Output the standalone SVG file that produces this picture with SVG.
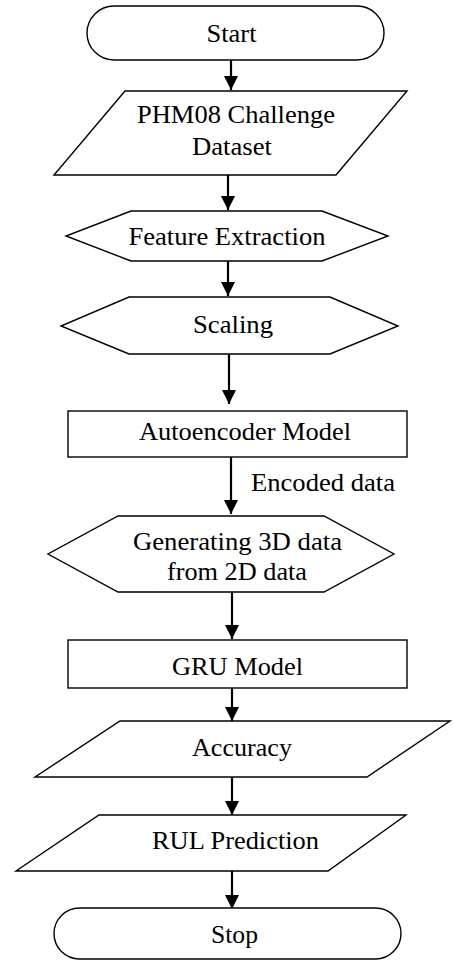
<svg xmlns="http://www.w3.org/2000/svg" width="454" height="960" viewBox="0 0 454 960">
<style>
.s{fill:#fff;stroke:#000;stroke-width:1.4}
.t{font-size:24.5px;fill:#000;text-anchor:middle}
.c{stroke:#000;stroke-width:2.2;fill:none}
</style>
<defs>
<marker id="ah" markerUnits="userSpaceOnUse" markerWidth="15" markerHeight="14" refX="14" refY="7" orient="auto">
<path d="M0,0 L14,7 L0,14 Z" fill="#000"/>
</marker>
</defs>
<rect width="454" height="960" fill="#fff"/>
<g font-family="Liberation Serif, Times New Roman, serif">
<g id="connectors">
<line class="c" x1="231" y1="60" x2="231" y2="90" marker-end="url(#ah)"/>
<line class="c" x1="228" y1="175" x2="228" y2="210" marker-end="url(#ah)"/>
<line class="c" x1="228" y1="261" x2="228" y2="296" marker-end="url(#ah)"/>
<line class="c" x1="229" y1="354" x2="229" y2="404" marker-end="url(#ah)"/>
<line class="c" x1="231" y1="457" x2="231" y2="514" marker-end="url(#ah)"/>
<text class="t" x="251" y="491" style="text-anchor:start" textLength="144" lengthAdjust="spacingAndGlyphs">Encoded data</text>
<line class="c" x1="232" y1="592" x2="232" y2="639" marker-end="url(#ah)"/>
<line class="c" x1="232" y1="688" x2="232" y2="721" marker-end="url(#ah)"/>
<line class="c" x1="232" y1="777" x2="232" y2="815" marker-end="url(#ah)"/>
<line class="c" x1="232" y1="871" x2="232" y2="909" marker-end="url(#ah)"/>
</g>
<g id="start">
<rect class="s" x="87" y="6" width="297" height="54" rx="27" ry="27"/>
<text class="t" x="231.5" y="42" textLength="50" lengthAdjust="spacingAndGlyphs">Start</text>
</g>
<g id="dataset">
<polygon class="s" points="125,91 407,91 336,175 54,175"/>
<text class="t" x="236" y="123" textLength="198" lengthAdjust="spacingAndGlyphs">PHM08 Challenge</text>
<text class="t" x="232" y="155" textLength="80" lengthAdjust="spacingAndGlyphs">Dataset</text>
</g>
<g id="feature">
<polygon class="s" points="131,211 322,211 388,236 322,261 131,261 66,236"/>
<text class="t" x="227" y="245" textLength="197" lengthAdjust="spacingAndGlyphs">Feature Extraction</text>
</g>
<g id="scaling">
<polygon class="s" points="129,297 330,297 398,326 330,354 129,354 61,326"/>
<text class="t" x="233" y="333" textLength="80" lengthAdjust="spacingAndGlyphs">Scaling</text>
</g>
<g id="autoencoder">
<rect class="s" x="68" y="411" width="339" height="46"/>
<text class="t" x="245" y="440" textLength="212" lengthAdjust="spacingAndGlyphs">Autoencoder Model</text>
</g>
<g id="generate">
<polygon class="s" points="118,516 324,516 394,554 324,592 118,592 48,554"/>
<text class="t" x="237.5" y="550" textLength="209" lengthAdjust="spacingAndGlyphs">Generating 3D data</text>
<text class="t" x="237" y="580" textLength="140" lengthAdjust="spacingAndGlyphs">from 2D data</text>
</g>
<g id="gru">
<rect class="s" x="68" y="640" width="339" height="48"/>
<text class="t" x="237.5" y="675" textLength="131" lengthAdjust="spacingAndGlyphs">GRU Model</text>
</g>
<g id="accuracy">
<polygon class="s" points="120,721 450,721 367,777 35,777"/>
<text class="t" x="242" y="756" textLength="100" lengthAdjust="spacingAndGlyphs">Accuracy</text>
</g>
<g id="rul">
<polygon class="s" points="99,815 406,815 328,871 16,871"/>
<text class="t" x="235.5" y="849" textLength="167" lengthAdjust="spacingAndGlyphs">RUL Prediction</text>
</g>
<g id="stop">
<rect class="s" x="54" y="908" width="347" height="51" rx="25.5" ry="25.5"/>
<text class="t" x="234.5" y="943" textLength="47" lengthAdjust="spacingAndGlyphs">Stop</text>
</g>
</g>
</svg>
